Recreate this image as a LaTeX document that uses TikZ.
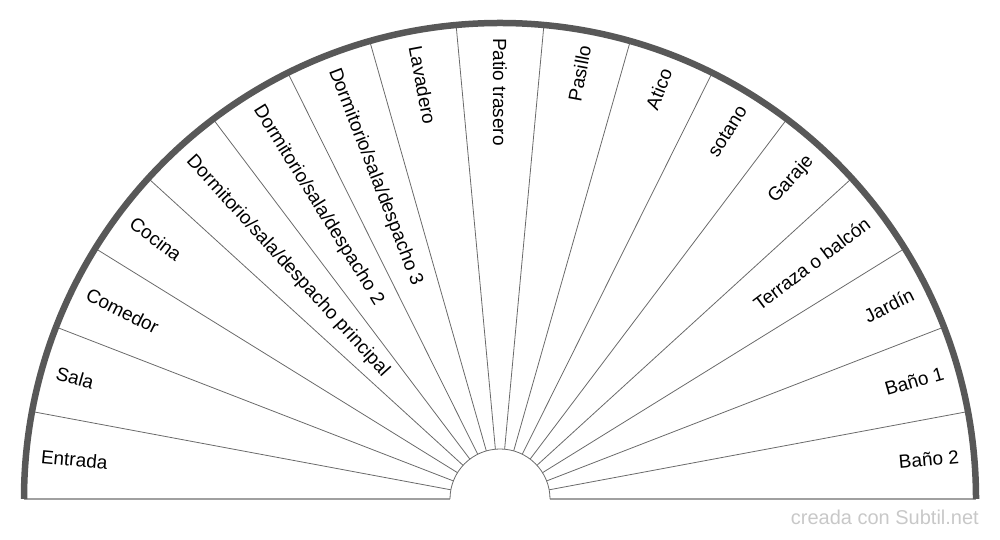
\documentclass[tikz,border=0pt]{standalone}
\usepackage{fontspec}
\setmainfont{Liberation Sans}
\definecolor{rim}{HTML}{585858}
\definecolor{spokegray}{HTML}{6A6A6A}
\definecolor{basegray}{HTML}{A0A0A0}
\definecolor{markgray}{HTML}{C8C8C8}
\begin{document}
\begin{tikzpicture}[x=1pt,y=1pt,line join=round,
	spoke/.style={draw=spokegray,line width=0.8pt},
	lbl/.style={inner sep=0pt,font=\fontsize{19}{22}\selectfont}]
	\useasboundingbox (0,0) rectangle (1000,540);
	\begin{scope}[shift={(500,41)}]
		\draw[basegray,line width=1.5pt] (-476,0)--(-50,0) (50,0)--(476,0);
		\foreach \i in {1,...,16}
		\draw[spoke] ({180-\i*180/17}:50)--({180-\i*180/17}:476);
		\draw[spoke] (0:50) arc[start angle=0,end angle=180,radius=50pt];
		\draw[rim,line width=6.5pt] (180:476) arc[start angle=180,end angle=0,radius=476pt];
		\foreach \t [count=\i from 0] in {Entrada,Sala,Comedor,Cocina,
			Dormitorio/sala/despacho principal,Dormitorio/sala/despacho 2,
			Dormitorio/sala/despacho 3,Lavadero,Patio trasero,Pasillo,Atico,
			sotano,Garaje,Terraza o balcón,Jardín,Baño 1,Baño 2}
		{\pgfmathsetmacro\a{180-(\i+0.5)*180/17}
			\pgfmathsetmacro\b{\a-180}
			\ifnum\i<9
			\node[lbl,anchor=west,rotate=\b] (l\i) at (\a:461) {\t};
			\else
			\node[lbl,anchor=east,rotate=\a] (l\i) at (\a:461) {\t};
			\fi}
	\end{scope}
	\node[anchor=base east,inner sep=0pt,text=markgray,font=\fontsize{20}{24}\selectfont] (firma) at (979,15) {creada con Subtil.net};
\end{tikzpicture}
\end{document}
